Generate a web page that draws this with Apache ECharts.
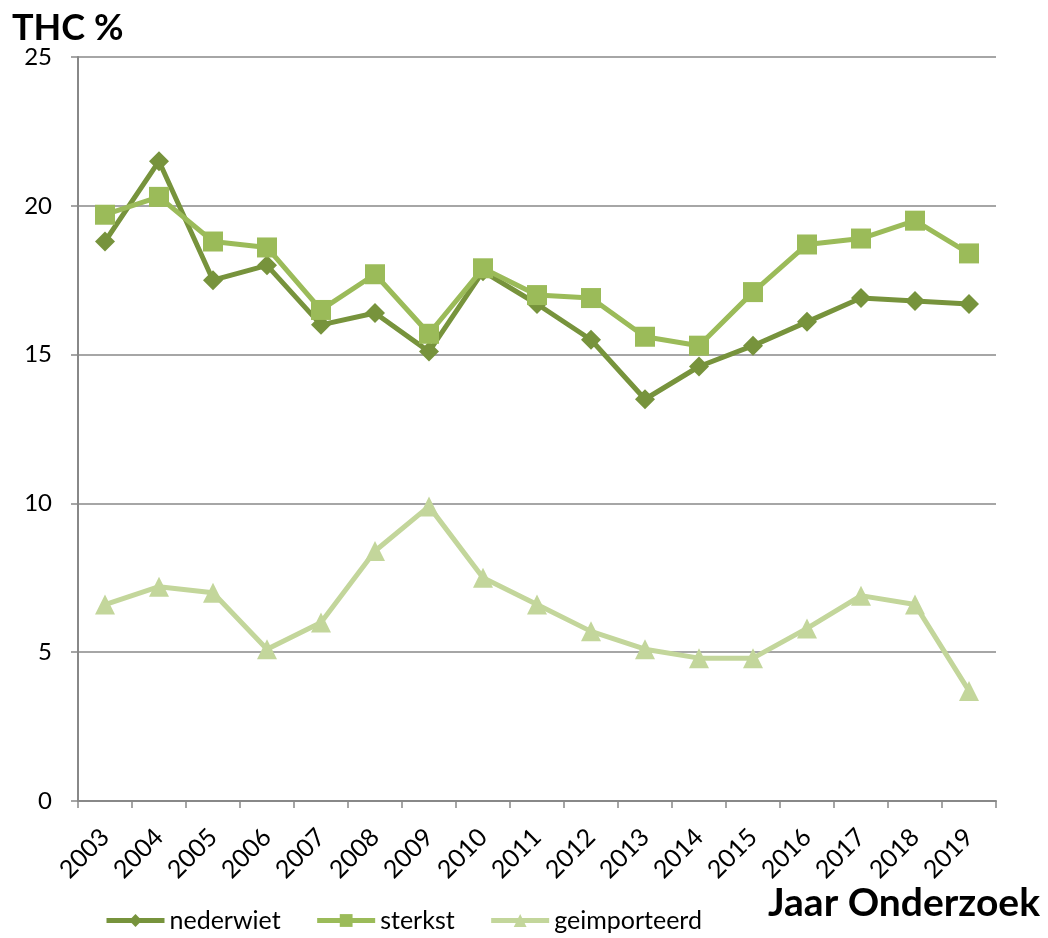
<!DOCTYPE html>
<html><head><meta charset="utf-8">
<script src="https://cdn.jsdelivr.net/npm/echarts@6/dist/echarts.min.js"></script>
<style>html,body{margin:0;padding:0;background:#fff}#c{width:1048px;height:938px}</style>
</head><body><div id="c"></div>
<script>
const years = ['2003','2004','2005','2006','2007','2008','2009','2010','2011','2012','2013','2014','2015','2016','2017','2018','2019'];
const nederwiet = [18.8,21.5,17.5,18.0,16.0,16.4,15.1,17.8,16.7,15.5,13.5,14.6,15.3,16.1,16.9,16.8,16.7];
const sterkst = [19.7,20.3,18.8,18.6,16.5,17.7,15.7,17.9,17.0,16.9,15.6,15.3,17.1,18.7,18.9,19.5,18.4];
const geimporteerd = [6.6,7.2,7.0,5.1,6.0,8.4,9.9,7.5,6.6,5.7,5.1,4.8,4.8,5.8,6.9,6.6,3.7];
const yTicks = [0,5,10,15,20,25];

const FONT = 'Lato, "Open Sans", sans-serif';
const chart = echarts.init(document.getElementById('c'), null, {renderer:'canvas'});
chart.setOption({
  animation:false,
  textStyle:{fontFamily:FONT},
  title:[
    {text:'THC %', left:7, top:5, textStyle:{fontFamily:FONT, fontSize:36, fontWeight:'bold', color:'#000'}},
    {text:'Jaar Onderzoek', right:3, top:879, textStyle:{fontFamily:FONT, fontSize:39, fontWeight:'bold', color:'#000'}}
  ],
  legend:{
    left:99, top:903, itemGap:34, itemWidth:58, itemHeight:16,
    lineStyle:{width:5},
    textStyle:{fontFamily:FONT, fontSize:25, color:'#000'},
    data:['nederwiet','sterkst','geimporteerd']
  },
  grid:{left:78, right:52, top:57, bottom:137, containLabel:false},
  xAxis:{
    type:'category', data:years, boundaryGap:true,
    axisLine:{lineStyle:{color:'#888', width:2}},
    axisTick:{show:true, alignWithLabel:false, length:7, lineStyle:{color:'#888', width:1.5}},
    axisLabel:{rotate:45, fontSize:25, color:'#000', margin:32, fontFamily:FONT, interval:0}
  },
  yAxis:{
    type:'value', min:0, max:25, interval:5,
    axisLine:{show:true, lineStyle:{color:'#888', width:2}},
    axisTick:{show:true, length:7, lineStyle:{color:'#888', width:1.5}},
    axisLabel:{fontSize:24, color:'#000', margin:26, fontFamily:FONT,
      formatter:v=>yTicks.includes(v)?String(v):''},
    splitLine:{lineStyle:{color:'#888', width:1.5}}
  },
  series:[
    {name:'nederwiet', type:'line', data:nederwiet, symbol:'diamond', symbolSize:20,
      lineStyle:{color:'#77933C', width:5}, itemStyle:{color:'#77933C'}, z:3},
    {name:'sterkst', type:'line', data:sterkst, symbol:'rect', symbolSize:20,
      lineStyle:{color:'#9BBB59', width:5}, itemStyle:{color:'#9BBB59'}, z:4},
    {name:'geimporteerd', type:'line', data:geimporteerd, symbol:'triangle', symbolSize:20,
      lineStyle:{color:'#C3D69B', width:5}, itemStyle:{color:'#C3D69B'}, z:2}
  ]
});
</script></body></html>
